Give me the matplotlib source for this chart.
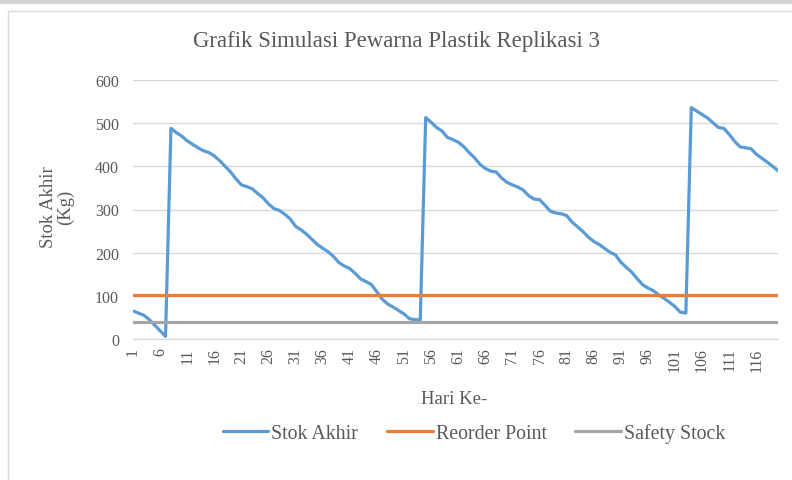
import numpy as np
import matplotlib
matplotlib.use('Agg')
import matplotlib.pyplot as plt
from matplotlib.lines import Line2D
from matplotlib.patches import Rectangle

# Data
hari = np.arange(1, 121)
stok_akhir = [65, 60, 55, 45, 32, 19, 6,
              488, 478, 470, 459, 451, 443, 436, 432, 424, 413, 400, 387, 371,
              357, 353, 348, 337, 327, 313, 302, 298, 289, 278, 261, 253, 243, 231,
              219, 210, 202, 191, 177, 169, 163, 152, 139, 133, 126, 109, 92, 81,
              74, 66, 58, 47, 45, 44,
              513, 502, 490, 482, 467, 462, 456, 446, 432, 420, 405, 395, 389, 387,
              373, 363, 357, 352, 345, 332, 324, 323, 310, 296, 292, 290, 286, 271,
              260, 249, 236, 226, 219, 210, 201, 195, 178, 166, 155, 140, 126, 118,
              112, 102, 94, 85, 75, 62, 60,
              536, 528, 520, 512, 501, 490, 488, 474, 458, 445, 443, 441, 428, 419,
              410, 400, 390]
reorder_point = [103] * len(hari)
safety_stock = [40] * len(hari)

x_ticks = list(range(1, 121, 5))
y_ticks = [0, 100, 200, 300, 400, 500, 600]

plt.rcParams['font.family'] = ['Liberation Serif', 'DejaVu Serif']
text_col = '#595959'

fig = plt.figure(figsize=(7.92, 4.81), dpi=100)
W, H = 792, 481

# outer chart frame like the screenshot
fig.add_artist(Line2D([0, 1], [1 - 3 / H, 1 - 3 / H], color='#d4d4d4', lw=3, transform=fig.transFigure))
fig.add_artist(Rectangle((8 / W, -0.1), 1.2, 1 - 12 / H + 0.1, transform=fig.transFigure,
                         fill=False, edgecolor='#d9d9d9', lw=1))

ax = fig.add_axes([133 / W, 1 - 340 / H, (778 - 133) / W, (340 - 81) / H])

ax.plot(hari, stok_akhir, color='#5B9BD5', lw=2.3, solid_joinstyle='round', solid_capstyle='round',
        label='Stok Akhir', zorder=3)
ax.plot(hari, reorder_point, color='#ED7D31', lw=2.3, solid_capstyle='round', label='Reorder Point', zorder=3)
ax.plot(hari, safety_stock, color='#A5A5A5', lw=2.3, solid_capstyle='round', label='Safety Stock', zorder=3)

ax.set_xlim(1, 120)
ax.set_ylim(0, 600)
ax.set_yticks(y_ticks)
ax.set_xticks(x_ticks)
ax.set_xticklabels([str(t) for t in x_ticks], rotation=90)
ax.grid(axis='y', color='#d9d9d9', lw=1)
ax.set_axisbelow(True)
for s in ['top', 'right', 'left']:
    ax.spines[s].set_visible(False)
ax.spines['bottom'].set_color('#d9d9d9')
ax.tick_params(length=0, colors=text_col, labelsize=11.5)
ax.tick_params(axis='y', pad=10)
ax.tick_params(axis='x', pad=6)

fig.text(454 / W, 1 - 400 / H, 'Hari Ke-', ha='center', va='center', fontsize=13.5, color=text_col)
fig.text(57 / W, 1 - 207 / H, 'Stok Akhir\n(Kg)', ha='center', va='center', rotation=90,
         fontsize=13.5, color=text_col, linespacing=1.0, multialignment='center')
fig.text(396 / W, 1 - 42 / H, 'Grafik Simulasi Pewarna Plastik Replikasi 3',
         ha='center', va='center', fontsize=16.5, color=text_col)

fig.legend(loc='center', bbox_to_anchor=(474 / W, 1 - 434 / H), ncol=3, frameon=False,
           fontsize=14.3, handlelength=2.3, handletextpad=0.15, columnspacing=1.45, labelcolor=text_col)

fig.savefig('out.png', dpi=100)
